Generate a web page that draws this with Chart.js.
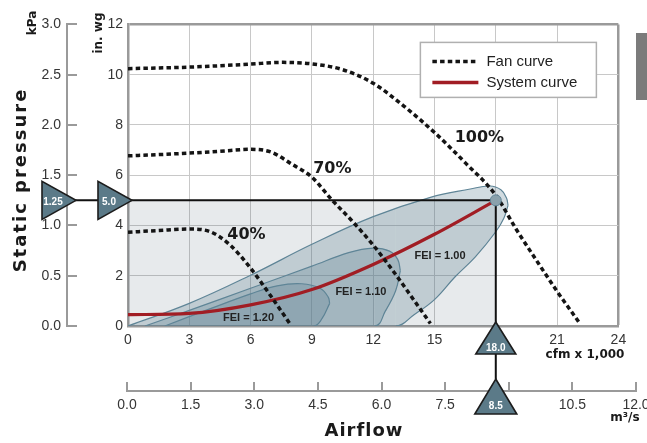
<!DOCTYPE html>
<html>
<head>
<meta charset="utf-8">
<script src="https://cdn.jsdelivr.net/npm/chart.js@4.4.1/dist/chart.umd.min.js"></script>
<style>
  html, body { margin: 0; padding: 0; background: #fff; }
  #wrap { width: 647px; height: 443px; }
</style>
</head>
<body>
<div id="wrap"><canvas id="fanChart" width="647" height="443"></canvas></div>
<script>
// ── DATA ────────────────────────────────────────────────────────────────────────
// airflow in cfm x 1,000, static pressure in in. wg
const fan100 = [[0,10.24],[3,10.3],[6,10.42],[7.5,10.49],[9,10.43],[10.5,10.2],[12,9.66],[13.5,8.75],[15,7.7],[16.5,6.5],[18,5.2],[19,3.85],[20,2.6],[21,1.38],[22.1,0.12]];
const fan70  = [[0,6.77],[1.5,6.82],[3,6.88],[4.5,6.95],[6,7.03],[7,6.92],[8,6.45],[9,5.92],[10,5.0],[11,4.15],[12,3.22],[13,2.16],[14,1.02],[14.8,0.1]];
const fan40  = [[0,3.73],[1.5,3.8],[3,3.86],[4,3.76],[5,3.22],[6,2.3],[7,1.18],[7.9,0.12]];
const systemCurve = [[0,0.45],[3,0.5],[6,0.84],[9,1.45],[12,2.45],[15,3.65],[18,5.0]];

// FEI regions: upper edge and lower edge, both running left to right up to the tip
const fei100Top = [[0,0],[3,0.9],[6,2.02],[9,3.25],[12,4.35],[14.8,5.12],[16.75,5.45],[17.7,5.57],[18.25,5.42],[18.52,5.1],[18.6,4.8]];
const fei100Low = [[0,0],[13.1,0],[14,0.45],[15,1.05],[16,1.95],[17,2.75],[18,3.75],[18.4,4.3],[18.6,4.8]];
const fei110Top = [[0.83,0],[3,0.62],[6,1.5],[9,2.38],[10.8,2.92],[12,3.1],[12.8,2.98],[13.2,2.65],[13.33,2.2]];
const fei110Low = [[0.83,0],[12.07,0],[12.6,0.6],[13.1,1.4],[13.33,2.2]];
const fei120Top = [[1.8,0],[4,0.68],[6,1.28],[7.3,1.6],[8.5,1.68],[9.4,1.5],[9.8,1.15],[9.87,0.9]];
const fei120Low = [[1.8,0],[9.1,0],[9.5,0.3],[9.87,0.9]];

const opFlow = 18.0;      // cfm x 1,000
const opPressure = 5.0;   // in. wg
const opKpa = 1.25;
const opMs = 8.5;

const cfmTicks = [0, 24, 3];      // min, max, step
const inwgTicks = [0, 12, 2];
const kpaTicks = [0, 3, 0.5];
const msTicks = [0, 12, 1.5];

const fanNames = ['100%', '70%', '40%'];
const feiNames = ['FEI = 1.00', 'FEI = 1.10', 'FEI = 1.20'];
const legendNames = ['Fan curve', 'System curve'];

// label anchors (data units)
const fanNoteAt = [[17.2, 7.5], [10.0, 6.25], [5.8, 3.63]];
const feiNoteAt = [[15.27, 2.78], [11.4, 1.35], [5.9, 0.31]];

// ── STYLE ───────────────────────────────────────────────────────────────────────

const FRAME = '#9a9a9a';
const GRID = '#c8c8c8';
const TXT = '#353535';
const RED = '#a11d24';
const TRI = '#5b7a88';
const EDGE = '#5f8597';

Chart.defaults.font.family = '"Liberation Sans", Arial, sans-serif';
Chart.defaults.color = TXT;

const pts = a => a.map(([x, y]) => ({ x, y }));

const fanSet = (data) => ({
  data: pts(data), borderColor: '#141414', borderWidth: 3.5, borderDash: [4.5, 3.2],
  borderCapStyle: 'butt', cubicInterpolationMode: 'monotone', pointRadius: 0, fill: false, order: 1
});

// a region is two datasets: the upper edge fills down to the lower edge (next dataset)
const regionSets = (top, low, order) => [
  { data: pts(top), borderColor: EDGE, borderWidth: 1.2, backgroundColor: 'rgba(90,125,145,0.28)',
    fill: '+1', tension: 0.4, pointRadius: 0, order },
  { data: pts(low), borderColor: EDGE, borderWidth: 1.2, fill: false, tension: 0.4, pointRadius: 0, order,
    segment: { borderColor: c => (c.p0.parsed.y === 0 && c.p1.parsed.y === 0 ? 'transparent' : undefined) } }
];

// ── DECOR PLUGIN ────────────────────────────────────────────────────────────────

function triangle(ctx, p, label, tx, ty) {
  ctx.beginPath();
  ctx.moveTo(p[0][0], p[0][1]);
  ctx.lineTo(p[1][0], p[1][1]);
  ctx.lineTo(p[2][0], p[2][1]);
  ctx.closePath();
  ctx.fillStyle = TRI;
  ctx.fill();
  ctx.lineWidth = 1.6;
  ctx.strokeStyle = '#1c1c1c';
  ctx.stroke();
  ctx.fillStyle = '#fff';
  ctx.font = 'bold 10px "Liberation Sans"';
  ctx.textAlign = 'center';
  ctx.textBaseline = 'middle';
  ctx.fillText(label, tx, ty);
}

function text(ctx, str, x, y, font, opts = {}) {
  ctx.save();
  ctx.translate(x, y);
  if (opts.rot) ctx.rotate(-Math.PI / 2);
  ctx.font = font;
  ctx.letterSpacing = opts.ls || '0px';
  ctx.fillStyle = opts.color || '#1a1a1a';
  ctx.textAlign = 'center';
  ctx.textBaseline = 'middle';
  ctx.fillText(str, 0, 0);
  ctx.restore();
}

const decor = {
  id: 'decor',
  afterLayout(chart) {
    // the m³/s axis runs a little wider than the plot
    const ms = chart.scales.ms;
    ms.left = chart.chartArea.left - 1;
    ms.right = ms.left + 509;
    ms.width = 509;
    ms.configure();
  },
  afterDatasetsDraw(chart) {
    const { ctx, scales: { x, y } } = chart;
    fanNames.forEach((t, i) => text(ctx, t, x.getPixelForValue(fanNoteAt[i][0]), y.getPixelForValue(fanNoteAt[i][1]), 'bold 16px "DejaVu Sans"'));
    feiNames.forEach((t, i) => text(ctx, t, x.getPixelForValue(feiNoteAt[i][0]), y.getPixelForValue(feiNoteAt[i][1]), 'bold 11px "Liberation Sans"', { color: '#222' }));
  },
  afterDraw(chart) {
    const { ctx, chartArea: a, scales: { x, y, kpa, ms } } = chart;
    ctx.save();

    // marker connectors
    const yk = kpa.getPixelForValue(opKpa);
    const yp = y.getPixelForValue(opPressure);
    const xp = x.getPixelForValue(opFlow);
    ctx.strokeStyle = '#111';
    ctx.lineWidth = 2;
    ctx.beginPath();
    ctx.moveTo(kpa.right + 8, yk); ctx.lineTo(y.left + 31, yp);
    ctx.moveTo(xp, a.bottom + 28); ctx.lineTo(xp, ms.top - 12);
    ctx.stroke();

    triangle(ctx, [[kpa.right - 25, yk - 19], [kpa.right - 25, yk + 19], [kpa.right + 9, yk]], String(opKpa), kpa.right - 14, yk + 2);
    triangle(ctx, [[y.left + 31, yp - 19], [y.left + 31, yp + 19], [y.right + 4, yp]], opPressure.toFixed(1), y.left + 42, yp + 2);
    triangle(ctx, [[xp, a.bottom - 4], [xp + 20, a.bottom + 28], [xp - 20, a.bottom + 28]], opFlow.toFixed(1), xp, a.bottom + 22);
    triangle(ctx, [[xp, ms.top - 12], [xp + 21, ms.top + 23], [xp - 21, ms.top + 23]], String(opMs), xp, ms.top + 15);

    // axis titles
    text(ctx, 'kPa', 33, 23, 'bold 12px "DejaVu Sans"', { rot: true });
    text(ctx, 'in. wg', 99, 33, 'bold 12px "DejaVu Sans"', { rot: true });
    text(ctx, 'Static pressure', 21, 180, 'bold 18px "DejaVu Sans"', { rot: true, ls: '2px' });
    text(ctx, 'Airflow', 364, 431, 'bold 18px "DejaVu Sans"', { ls: '1px' });
    text(ctx, 'cfm x 1,000', 585, 355, 'bold 12px "DejaVu Sans"');
    text(ctx, 'm³/s', 625, 418, 'bold 12px "DejaVu Sans"');

    // legend
    const lx = a.right - 198, ly = a.top + 18;
    ctx.fillStyle = '#fff';
    ctx.fillRect(lx, ly, 176, 55);
    ctx.strokeStyle = '#b0b0b0';
    ctx.lineWidth = 1.5;
    ctx.strokeRect(lx, ly, 176, 55);
    ctx.lineWidth = 3.5;
    ctx.strokeStyle = '#141414';
    ctx.setLineDash([4.5, 3.2]);
    ctx.beginPath(); ctx.moveTo(lx + 12, ly + 19); ctx.lineTo(lx + 58, ly + 19); ctx.stroke();
    ctx.setLineDash([]);
    ctx.strokeStyle = RED;
    ctx.beginPath(); ctx.moveTo(lx + 12, ly + 40); ctx.lineTo(lx + 58, ly + 40); ctx.stroke();
    ctx.fillStyle = '#222';
    ctx.font = '15px "Liberation Sans"';
    ctx.textAlign = 'left';
    ctx.textBaseline = 'middle';
    ctx.fillText(legendNames[0], lx + 66, ly + 19);
    ctx.fillText(legendNames[1], lx + 66, ly + 40);

    // page tab at the right edge
    ctx.fillStyle = '#7b7b7b';
    ctx.fillRect(636, 33, 11, 67);
    ctx.restore();
  }
};

// ── CHART ───────────────────────────────────────────────────────────────────────

const tickFont = { size: 14 };
const edgeColor = (edge) => (c) => (c.tick.value === edge ? FRAME : GRID);
const edgeWidth = (edge) => (c) => (c.tick.value === edge ? 2.5 : 1);

new Chart(document.getElementById('fanChart'), {
  type: 'line',
  data: {
    datasets: [
      { data: pts([[opFlow, opPressure]]), showLine: false, pointRadius: 5.5, pointBackgroundColor: '#8aa1ac', pointBorderColor: EDGE, pointBorderWidth: 1, order: 0 },
      fanSet(fan100),
      fanSet(fan70),
      fanSet(fan40),
      { data: pts([[0, opPressure], [opFlow, opPressure], [opFlow, 0]]), borderColor: '#111', borderWidth: 2, tension: 0, pointRadius: 0, fill: false, order: 2 },
      { data: pts(systemCurve), borderColor: RED, borderWidth: 3.2, cubicInterpolationMode: 'monotone', pointRadius: 0, fill: false, order: 3 },
      ...regionSets(fei120Top, fei120Low, 4),
      ...regionSets(fei110Top, fei110Low, 5),
      ...regionSets(fei100Top, fei100Low, 6),
      { data: pts([[0, opPressure], [opFlow, opPressure]]), borderColor: 'transparent', borderWidth: 0, backgroundColor: 'rgba(55,80,97,0.12)', fill: 'origin', tension: 0, pointRadius: 0, order: 7 }
    ]
  },
  options: {
    responsive: false,
    animation: false,
    events: [],
    layout: { padding: { top: 15, right: 24, bottom: 0, left: 0 } },
    plugins: { legend: { display: false }, tooltip: { enabled: false } },
    scales: {
      x: {
        type: 'linear', position: 'bottom', weight: 0,
        min: cfmTicks[0], max: cfmTicks[1],
        ticks: { stepSize: cfmTicks[2], font: tickFont, padding: 6 },
        grid: { color: edgeColor(cfmTicks[1]), lineWidth: edgeWidth(cfmTicks[1]), drawTicks: false },
        border: { color: FRAME, width: 2.5 },
        afterFit: s => { s.height = 65; }
      },
      ms: {
        type: 'linear', position: 'bottom', weight: 1,
        min: msTicks[0], max: msTicks[1],
        ticks: { stepSize: msTicks[2], font: tickFont, padding: 15, callback: v => (v === 9 ? '' : v.toFixed(1)) },
        grid: { drawOnChartArea: false, tickLength: -9, color: FRAME, lineWidth: 2 },
        border: { color: FRAME, width: 2 },
        afterFit: s => { s.height = 52; }
      },
      y: {
        type: 'linear', position: 'left', weight: 0,
        min: inwgTicks[0], max: inwgTicks[1],
        ticks: { stepSize: inwgTicks[2], font: tickFont, padding: 5 },
        grid: { color: edgeColor(inwgTicks[1]), lineWidth: edgeWidth(inwgTicks[1]), drawTicks: false },
        border: { color: FRAME, width: 2.5 },
        afterFit: s => { s.width = 61; }
      },
      kpa: {
        type: 'linear', position: 'left', weight: 1,
        min: kpaTicks[0], max: kpaTicks[1],
        ticks: { stepSize: kpaTicks[2], font: tickFont, padding: 16, callback: v => v.toFixed(1) },
        grid: { drawOnChartArea: false, tickLength: -10, color: FRAME, lineWidth: 2 },
        border: { color: FRAME, width: 2 },
        afterFit: s => { s.width = 67; }
      }
    }
  },
  plugins: [decor]
});
</script>
</body>
</html>
